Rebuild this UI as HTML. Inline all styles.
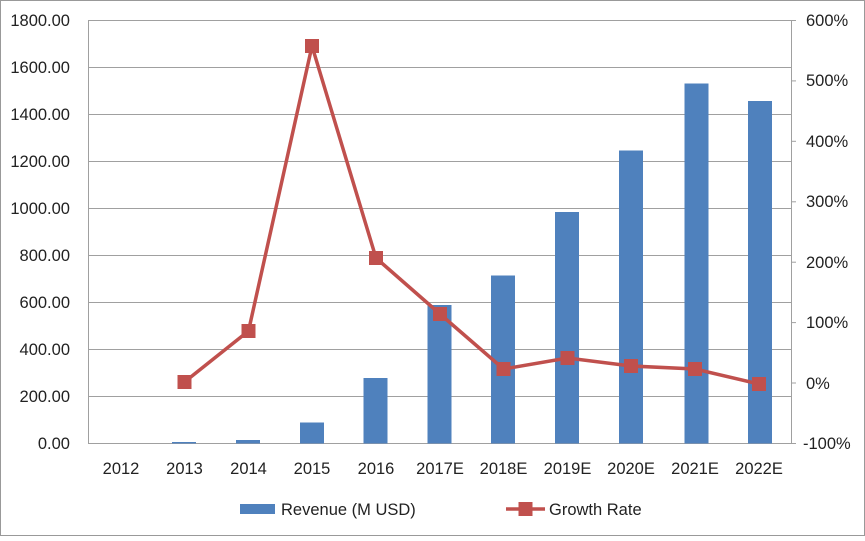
<!DOCTYPE html>
<html><head><style>
body{margin:0;background:#fff}
svg text{font-family:"Liberation Sans",sans-serif;font-size:16.5px;fill:#222}
</style></head><body>
<svg width="865" height="536" xmlns="http://www.w3.org/2000/svg">
<rect x="0.5" y="0.5" width="864" height="535" fill="#fff" stroke="#999"/>
<g stroke="#a0a0a0" stroke-width="1">
<line x1="89" y1="20.5" x2="791" y2="20.5"/>
<line x1="89" y1="67.5" x2="791" y2="67.5"/>
<line x1="89" y1="114.5" x2="791" y2="114.5"/>
<line x1="89" y1="161.5" x2="791" y2="161.5"/>
<line x1="89" y1="208.5" x2="791" y2="208.5"/>
<line x1="89" y1="255.5" x2="791" y2="255.5"/>
<line x1="89" y1="302.5" x2="791" y2="302.5"/>
<line x1="89" y1="349.5" x2="791" y2="349.5"/>
<line x1="89" y1="396.5" x2="791" y2="396.5"/>
<line x1="89" y1="443.5" x2="791" y2="443.5"/>
<line x1="88.5" y1="20" x2="88.5" y2="444"/>
<line x1="791.5" y1="20" x2="791.5" y2="444"/>
<line x1="791" y1="20.5" x2="796" y2="20.5"/>
<line x1="791" y1="80.9" x2="796" y2="80.9"/>
<line x1="791" y1="141.3" x2="796" y2="141.3"/>
<line x1="791" y1="201.8" x2="796" y2="201.8"/>
<line x1="791" y1="262.2" x2="796" y2="262.2"/>
<line x1="791" y1="322.6" x2="796" y2="322.6"/>
<line x1="791" y1="383" x2="796" y2="383"/>
<line x1="791" y1="443.5" x2="796" y2="443.5"/>
</g>
<g text-anchor="end">
<text x="70" y="26">1800.00</text><text x="70" y="73">1600.00</text><text x="70" y="120">1400.00</text>
<text x="70" y="167">1200.00</text><text x="70" y="214">1000.00</text><text x="70" y="261">800.00</text>
<text x="70" y="308">600.00</text><text x="70" y="355">400.00</text><text x="70" y="402">200.00</text>
<text x="70" y="449">0.00</text>
</g>
<g>
<text x="806" y="26">600%</text><text x="806" y="86">500%</text><text x="806" y="147">400%</text>
<text x="806" y="207">300%</text><text x="806" y="268">200%</text><text x="806" y="328">100%</text>
<text x="806" y="389">0%</text><text x="803" y="449">-100%</text>
</g>
<g fill="#4f81bd">
<rect x="172" y="442" width="24" height="1.5"/>
<rect x="236" y="440" width="24" height="3.5"/>
<rect x="300" y="422.5" width="24" height="21"/>
<rect x="363.5" y="378" width="24" height="65.5"/>
<rect x="427.5" y="305" width="24" height="138.5"/>
<rect x="491" y="275.5" width="24" height="168"/>
<rect x="555" y="212" width="24" height="231.5"/>
<rect x="619" y="150.5" width="24" height="293"/>
<rect x="684.5" y="83.5" width="24" height="360"/>
<rect x="748" y="101" width="24" height="342.5"/>
</g>
<polyline fill="none" stroke="#c0504d" stroke-width="3.5" points="184.5,382 248.5,331 312,46 376,258 440,314 503.5,369 567.5,358 631,366 695,369 759,384"/>
<g fill="#c0504d">
<rect x="177.5" y="375" width="14" height="14"/><rect x="241.5" y="324" width="14" height="14"/>
<rect x="305" y="39" width="14" height="14"/><rect x="369" y="251" width="14" height="14"/>
<rect x="433" y="307" width="14" height="14"/><rect x="496.5" y="362" width="14" height="14"/>
<rect x="560.5" y="351" width="14" height="14"/><rect x="624" y="359" width="14" height="14"/>
<rect x="688" y="362" width="14" height="14"/><rect x="752" y="377" width="14" height="14"/>
</g>
<g text-anchor="middle">
<text x="121" y="474">2012</text><text x="184.5" y="474">2013</text><text x="248.5" y="474">2014</text>
<text x="312" y="474">2015</text><text x="376" y="474">2016</text><text x="440" y="474">2017E</text>
<text x="503.5" y="474">2018E</text><text x="567.5" y="474">2019E</text><text x="631" y="474">2020E</text>
<text x="695" y="474">2021E</text><text x="759" y="474">2022E</text>
</g>
<rect x="240" y="504" width="35" height="10" fill="#4f81bd"/>
<text x="281" y="515">Revenue (M USD)</text>
<line x1="506" y1="509" x2="545" y2="509" stroke="#c0504d" stroke-width="3.5"/>
<rect x="518.5" y="502" width="14" height="14" fill="#c0504d"/>
<text x="549" y="515">Growth Rate</text>
</svg>
</body></html>
